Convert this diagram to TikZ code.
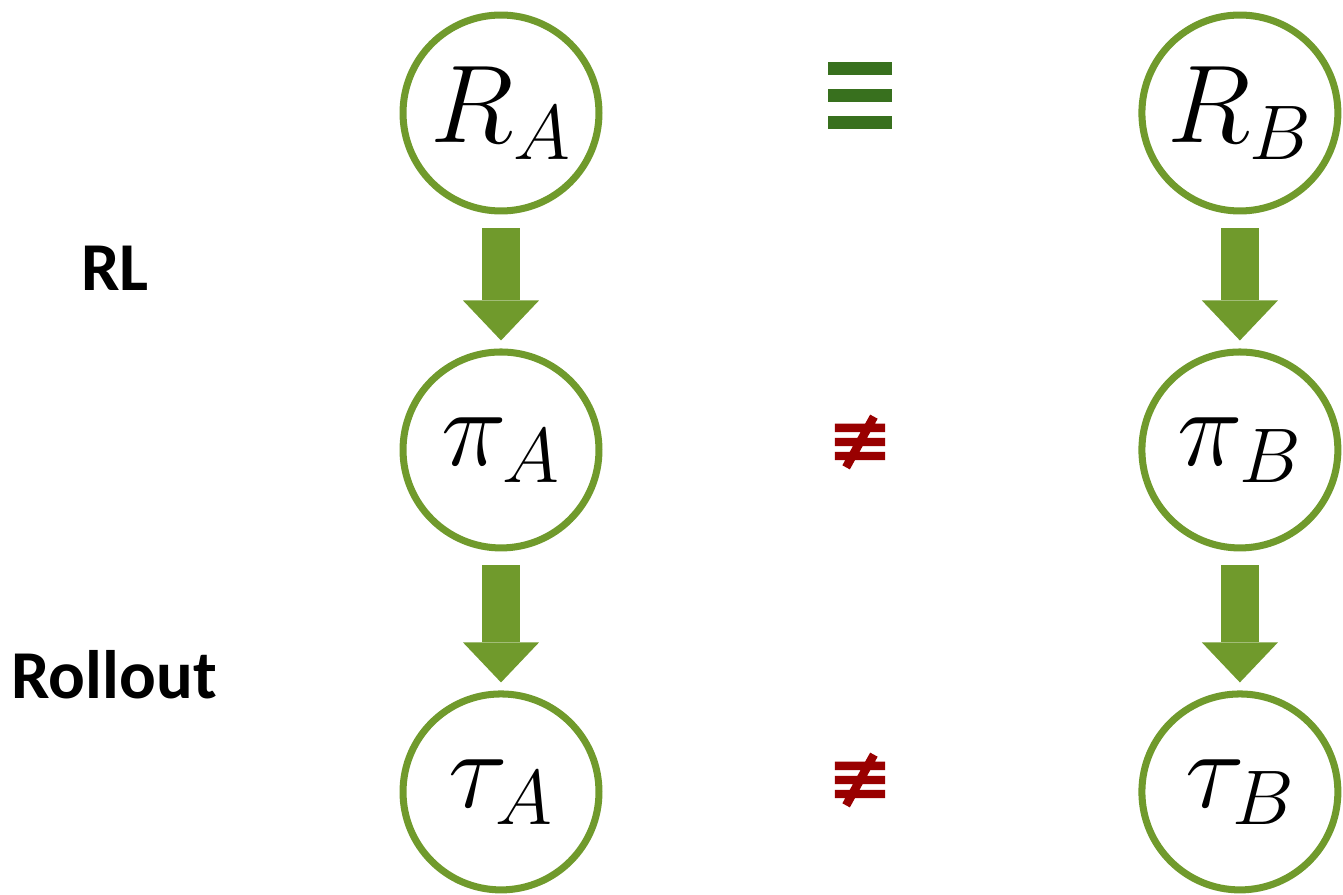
\documentclass[tikz,border=0pt]{standalone}
\usepackage{fix-cm}
\usepackage{fontspec}
\newfontfamily\labelfont{Carlito}
\newfontfamily\neqfont[FakeBold=2.5]{DejaVu Sans}
\usetikzlibrary{arrows.meta, positioning}
\definecolor{leafgreen}{RGB}{112,154,44}
\definecolor{darkgreen}{RGB}{56,112,30}
\definecolor{darkred}{RGB}{153,0,0}

\begin{document}
\begin{tikzpicture}[
        x=0.02cm, y=-0.02cm,
        state/.style={
            circle,
            draw=leafgreen,
            line width=4pt,
            minimum size=3.92cm,
            inner sep=0pt,
            font=\fontsize{63}{66}\selectfont
        },
        fat/.style={
            leafgreen,
            line width=0.76cm,
            -{Triangle[width=1.52cm,length=0.8cm,line width=0pt]},
            shorten <=0.28cm,
            shorten >=0.16cm
        },
        rowlabel/.style={font=\labelfont\bfseries\fontsize{39}{44}\selectfont},
        noteq/.style={text=darkred, font=\neqfont\fontsize{44}{46}\selectfont},
        node distance=2.68cm and 10.72cm
    ]
        \useasboundingbox (0,0) rectangle (1343,895);

        \node[state] (rewardA) at (501,113) {$R_A$};
        \node[state, below=of rewardA] (policyA) {$\pi_A$};
        \node[state, below=2.78cm of policyA] (trajA) {$\tau_A$};

        \node[state, right=of rewardA] (rewardB) {$R_B$};
        \node[state, below=of rewardB] (policyB) {$\pi_B$};
        \node[state, below=2.78cm of policyB] (trajB) {$\tau_B$};

        \draw[fat] (rewardA) -- (policyA);
        \draw[fat] (policyA) -- (trajA);
        \draw[fat] (rewardB) -- (policyB);
        \draw[fat] (policyB) -- (trajB);

        \node[rowlabel] (rl) at (115,268) {RL};
        \node[rowlabel] (rollout) at (114,675) {Rollout};

        % same reward, different policy and rollout
        \coordinate (same) at (860,96);
        \foreach \dy in {-27,0,27}
            \fill[darkgreen] ([shift={(-32,\dy-6.5)}]same) rectangle ++(64,13);
        \node[noteq] (diffpolicy) at (860,442) {≢};
        \node[noteq] (difftraj) at (860,780) {≢};

    \end{tikzpicture}
\end{document}
